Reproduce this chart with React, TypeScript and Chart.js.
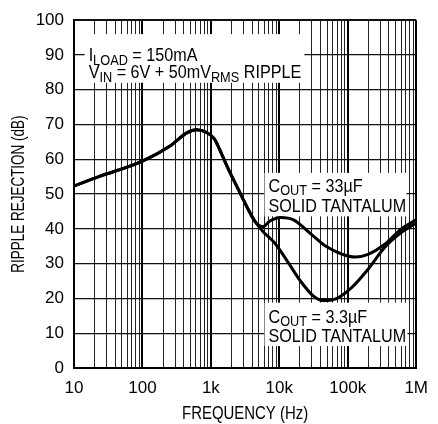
import React, { useEffect, useRef } from 'react';
import { Chart, registerables } from 'chart.js';

Chart.register(...registerables);

// Shared part of both curves (identical until ~5 kHz)
const freqShared = [10, 23, 100, 260, 445, 620, 850, 1125, 1330, 1830, 2540, 3530, 4500];
const dbShared = [52.3, 55.0, 59.5, 64.0, 67.6, 68.5, 67.8, 65.9, 63.0, 56.9, 51.2, 45.5, 41.9];

// C_OUT = 33µF tail
const freq33uF = [5800, 7200, 10500, 16200, 28000, 48000, 83000, 128000, 198000, 343000, 590000, 1000000];
const db33uF = [40.6, 42.2, 43.3, 42.6, 38.8, 35.0, 32.7, 31.9, 32.7, 35.5, 39.8, 42.6];

// C_OUT = 3.3µF tail
const freq3u3F = [5800, 8500, 13000, 20200, 31000, 43200, 66800, 115000, 198000, 343000, 590000, 1000000];
const db3u3F = [39.2, 36.0, 30.8, 25.1, 20.8, 19.4, 19.9, 23.2, 28.4, 34.6, 38.8, 41.7];

const xMajorTicks = [10, 100, 1000, 10000, 100000, 1000000];
const xTickLabels = ['10', '100', '1k', '10k', '100k', '1M'];
const yMin = 0;
const yMax = 100;
const yStep = 10;

const xTitle = 'FREQUENCY (Hz)';
const yTitle = 'RIPPLE REJECTION (dB)';

type Seg = { t: string; sub?: boolean };
const note1Line1: Seg[] = [{ t: 'I' }, { t: 'LOAD', sub: true }, { t: ' = 150mA' }];
const note1Line2: Seg[] = [
  { t: 'V' }, { t: 'IN', sub: true }, { t: ' = 6V + 50mV' }, { t: 'RMS', sub: true }, { t: ' RIPPLE' },
];
const note2Line1: Seg[] = [{ t: 'C' }, { t: 'OUT', sub: true }, { t: ' = 33\u00b5F' }];
const note3Line1: Seg[] = [{ t: 'C' }, { t: 'OUT', sub: true }, { t: ' = 3.3\u00b5F' }];
const noteTantalum: Seg[] = [{ t: 'SOLID TANTALUM' }];

// Boxes in data coordinates: [fLeft, dbTop, fRight, dbBottom]
const note1Box = [14.3, 96.0, 23200, 82.0];
const note2Box = [6080, 56.1, 721000, 43.6];
const note3Box = [6080, 18.8, 745000, 6.3];

const FONT = "'Liberation Sans', Arial, sans-serif";

function buildGrid(): number[] {
  const out: number[] = [];
  for (let i = 0; i < xMajorTicks.length - 1; i++) {
    for (let m = 1; m <= 9; m++) out.push(xMajorTicks[i] * m);
  }
  out.push(xMajorTicks[xMajorTicks.length - 1]);
  return out;
}

function drawSegs(ctx: CanvasRenderingContext2D, segs: Seg[], x: number, y: number, sx: number) {
  ctx.save();
  ctx.translate(x, y);
  ctx.scale(sx, 1);
  ctx.textAlign = 'left';
  ctx.textBaseline = 'alphabetic';
  ctx.fillStyle = '#000';
  let cx = 0;
  for (const s of segs) {
    ctx.font = s.sub ? `15px ${FONT}` : `19px ${FONT}`;
    ctx.fillText(s.t, cx, s.sub ? 3.5 : 0);
    cx += ctx.measureText(s.t).width;
  }
  ctx.restore();
}

const notesPlugin = {
  id: 'notes',
  beforeDatasetsDraw(chart: any) {
    const ctx: CanvasRenderingContext2D = chart.ctx;
    const xs = chart.scales.x;
    const ys = chart.scales.y;
    const boxes: [number[], Seg[][], number[]][] = [
      [note1Box, [note1Line1, note1Line2], [27, 44]],
      [note2Box, [note2Line1, noteTantalum], [19, 39]],
      [note3Box, [note3Line1, noteTantalum], [20, 39]],
    ];
    for (const [b, lines, offs] of boxes) {
      const l = xs.getPixelForValue(b[0]);
      const t = ys.getPixelForValue(b[1]);
      const r = xs.getPixelForValue(b[2]);
      const bt = ys.getPixelForValue(b[3]);
      ctx.save();
      ctx.fillStyle = '#fff';
      ctx.fillRect(l, t, r - l, bt - t);
      ctx.restore();
      lines.forEach((segs, i) => drawSegs(ctx, segs, l + 4, t + offs[i], 0.85));
    }
  },
  afterDraw(chart: any) {
    const ctx: CanvasRenderingContext2D = chart.ctx;
    const a = chart.chartArea;
    ctx.save();
    ctx.fillStyle = '#000';
    ctx.textAlign = 'center';
    ctx.textBaseline = 'alphabetic';
    ctx.save();
    ctx.font = `18px ${FONT}`;
    ctx.translate((a.left + a.right) / 2, chart.height - 5);
    ctx.scale(0.83, 1);
    ctx.fillText(xTitle, 0, 0);
    ctx.restore();
    ctx.save();
    ctx.font = `17.5px ${FONT}`;
    ctx.translate(24, (a.top + a.bottom) / 2);
    ctx.rotate(-Math.PI / 2);
    ctx.scale(0.77, 1);
    ctx.fillText(yTitle, 0, 0);
    ctx.restore();
    ctx.restore();
  },
};

export default function App() {
  const ref = useRef<HTMLCanvasElement | null>(null);

  useEffect(() => {
    if (!ref.current) return;
    const gridFreqs = buildGrid();
    const toPts = (fs: number[], ds: number[]) => fs.map((f, i) => ({ x: f, y: ds[i] }));
    const chart = new Chart(ref.current, {
      type: 'line',
      data: {
        datasets: [
          {
            label: 'COUT = 33µF',
            data: toPts(freqShared.concat(freq33uF), dbShared.concat(db33uF)),
            borderColor: '#000',
            borderWidth: 3,
            pointRadius: 0,
            fill: false,
            cubicInterpolationMode: 'monotone',
          },
          {
            label: 'COUT = 3.3µF',
            data: toPts(freqShared.concat(freq3u3F), dbShared.concat(db3u3F)),
            borderColor: '#000',
            borderWidth: 3,
            pointRadius: 0,
            fill: false,
            cubicInterpolationMode: 'monotone',
          },
        ],
      },
      options: {
        responsive: false,
        animation: false,
        devicePixelRatio: 1,
        layout: { padding: { top: 17, right: 12, left: 0, bottom: 0 } },
        plugins: { legend: { display: false }, tooltip: { enabled: false } },
        scales: {
          x: {
            type: 'logarithmic',
            min: xMajorTicks[0],
            max: xMajorTicks[xMajorTicks.length - 1],
            afterBuildTicks: (scale: any) => {
              scale.ticks = gridFreqs.map((v) => ({ value: v }));
            },
            afterFit: (scale: any) => {
              scale.height = 56;
            },
            ticks: {
              autoSkip: false,
              maxRotation: 0,
              padding: 10,
              color: '#000',
              font: { family: FONT, size: 17 },
              callback: (v: any) => {
                const i = xMajorTicks.indexOf(Number(v));
                return i >= 0 ? xTickLabels[i] : '';
              },
            },
            grid: {
              drawTicks: false,
              color: (c: any) => (xMajorTicks.includes(c.tick?.value) ? '#000' : '#222'),
              lineWidth: (c: any) => {
                const v = c.tick?.value;
                return xMajorTicks.includes(v) ? 2 : 1;
              },
            },
            border: { display: true, color: '#000', width: 2 },
          },
          y: {
            min: yMin,
            max: yMax,
            afterFit: (scale: any) => {
              scale.width = 74;
            },
            ticks: {
              stepSize: yStep,
              padding: 10,
              color: '#000',
              font: { family: FONT, size: 17 },
            },
            grid: {
              drawTicks: false,
              color: '#111',
              lineWidth: (c: any) => (c.tick?.value === yMax ? 2 : 1.3),
            },
            border: { display: true, color: '#000', width: 2 },
          },
        },
      },
      plugins: [notesPlugin],
    } as any);
    return () => chart.destroy();
  }, []);

  return (
    <div style={{ position: 'fixed', left: 0, top: 0, width: 438, height: 424, background: '#fff' }}>
      <canvas ref={ref} width={438} height={424} />
    </div>
  );
}
